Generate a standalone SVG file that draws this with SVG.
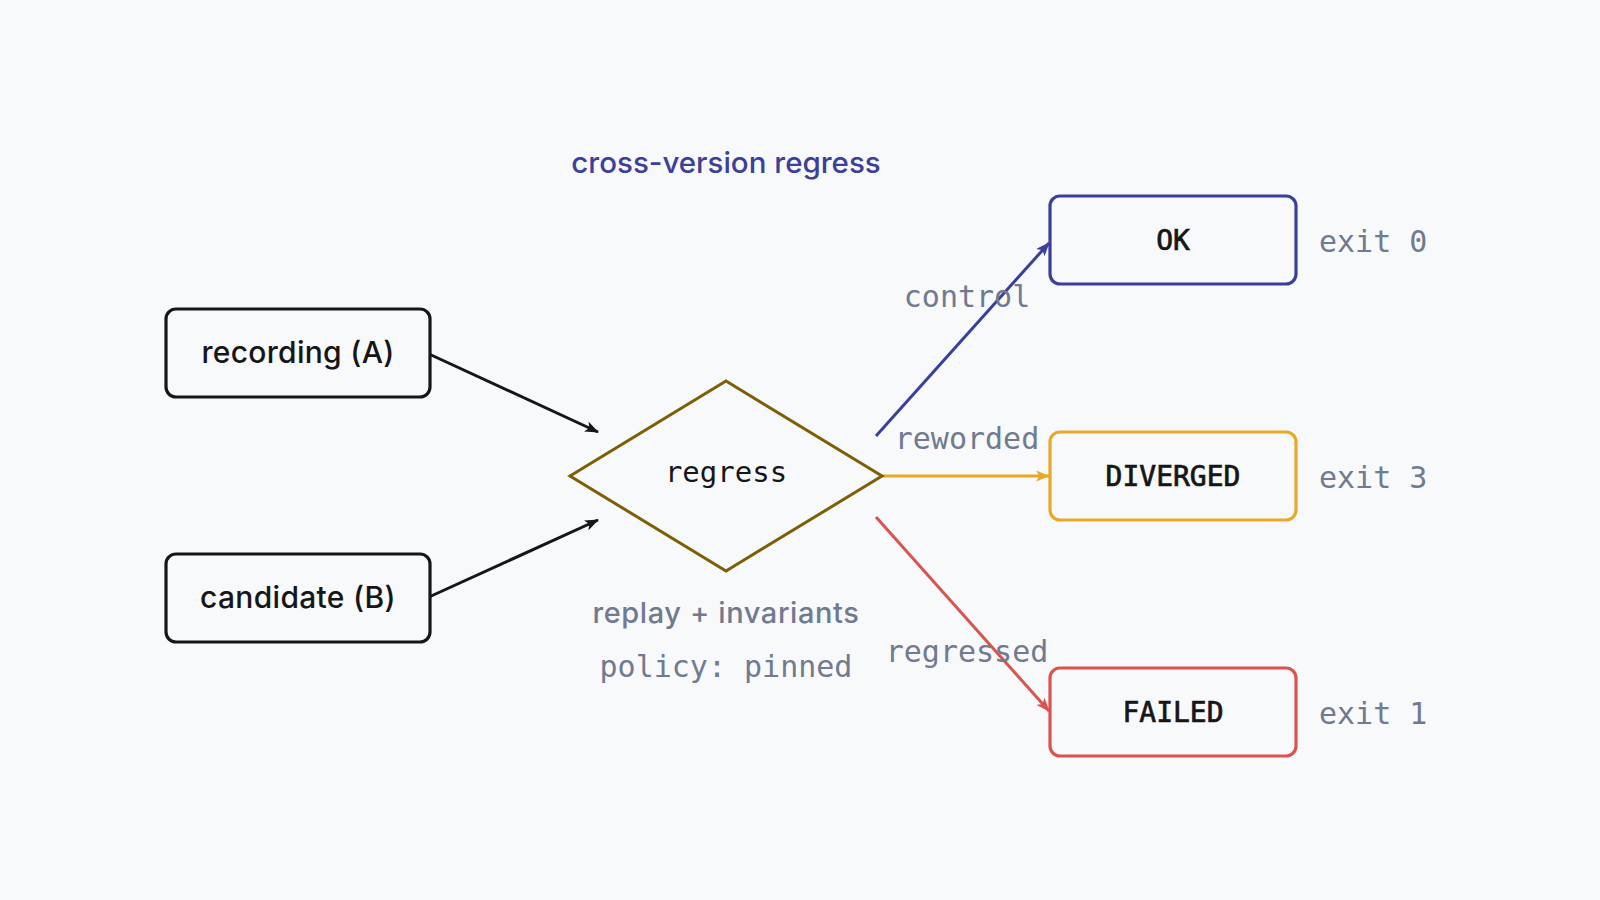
<svg xmlns="http://www.w3.org/2000/svg" width="1600" height="900" viewBox="0 0 1600 900">
<style>
.bg{fill:#f7f9fb}
.box{fill:#f7f9fb;stroke-width:3.2}
.sans{font-family:Inter,"Liberation Sans",sans-serif}
.mono{font-family:"DejaVu Sans Mono","Liberation Mono",monospace}
.lbl{fill:#717a8f;font-size:30px}
.node{font-size:28px;fill:#161616;stroke:#161616;stroke-width:0.7px}
.edge{fill:none;stroke-width:3}
</style>
<defs>
<marker id="ah-black" viewBox="0 0 14 11" refX="13" refY="5.5" markerWidth="14" markerHeight="11" markerUnits="userSpaceOnUse" orient="auto"><path d="M0,0 L14,5.5 L0,11 L3.5,5.5 z" fill="#161616"/></marker>
<marker id="ah-blue" viewBox="0 0 14 11" refX="13" refY="5.5" markerWidth="14" markerHeight="11" markerUnits="userSpaceOnUse" orient="auto"><path d="M0,0 L14,5.5 L0,11 L3.5,5.5 z" fill="#3b3f9c"/></marker>
<marker id="ah-orange" viewBox="0 0 14 11" refX="13" refY="5.5" markerWidth="14" markerHeight="11" markerUnits="userSpaceOnUse" orient="auto"><path d="M0,0 L14,5.5 L0,11 L3.5,5.5 z" fill="#e8a92a"/></marker>
<marker id="ah-red" viewBox="0 0 14 11" refX="13" refY="5.5" markerWidth="14" markerHeight="11" markerUnits="userSpaceOnUse" orient="auto"><path d="M0,0 L14,5.5 L0,11 L3.5,5.5 z" fill="#d9534f"/></marker>
</defs>
<rect class="bg" x="0" y="0" width="1600" height="900"/>
<text class="sans" x="726" y="173" text-anchor="middle" font-size="29.5" font-weight="500" fill="#3d3f99">cross-version regress</text>
<g id="connectors">
<line class="edge" x1="429" y1="354" x2="598" y2="432" stroke="#161616" marker-end="url(#ah-black)"/>
<line class="edge" x1="429" y1="597" x2="598" y2="520" stroke="#161616" marker-end="url(#ah-black)"/>
<line class="edge" x1="876" y1="436" x2="1049" y2="243" stroke="#3b3f9c" marker-end="url(#ah-blue)"/>
<line class="edge" x1="882" y1="476" x2="1049" y2="476" stroke="#e8a92a" marker-end="url(#ah-orange)"/>
<line class="edge" x1="876" y1="517" x2="1049" y2="711" stroke="#d9534f" marker-end="url(#ah-red)"/>
<text class="mono lbl" x="967" y="307" text-anchor="middle">control</text>
<text class="mono lbl" x="967" y="449" text-anchor="middle">reworded</text>
<text class="mono lbl" x="967" y="662" text-anchor="middle">regressed</text>
</g>
<g id="recording">
<rect class="box" x="166" y="309" width="264" height="88" rx="10" stroke="#161616"/>
<text class="sans" x="298" y="363" text-anchor="middle" font-size="30" font-weight="500" letter-spacing="0.3" fill="#161616">recording (A)</text>
</g>
<g id="candidate">
<rect class="box" x="166" y="554" width="264" height="88" rx="10" stroke="#161616"/>
<text class="sans" x="298" y="608" text-anchor="middle" font-size="30" font-weight="500" letter-spacing="0.3" fill="#161616">candidate (B)</text>
</g>
<g id="regress">
<polygon points="570,476 726,381 882,476 726,571" fill="#f7f9fb" stroke="#7d5f05" stroke-width="3"/>
<text class="mono" x="726" y="482" text-anchor="middle" font-size="29" fill="#161616">regress</text>
<text class="sans" x="726" y="623" text-anchor="middle" font-size="29" font-weight="500" letter-spacing="0.6" fill="#717a8f">replay + invariants</text>
<text class="mono lbl" x="726" y="677" text-anchor="middle">policy: pinned</text>
</g>
<g id="ok">
<rect class="box" x="1050" y="196" width="246" height="88" rx="10" stroke="#3b3f9c"/>
<text class="mono node" x="1173" y="250" text-anchor="middle">OK</text>
<text class="mono lbl" x="1319" y="252">exit 0</text>
</g>
<g id="diverged">
<rect class="box" x="1050" y="432" width="246" height="88" rx="10" stroke="#e8a92a"/>
<text class="mono node" x="1173" y="486" text-anchor="middle">DIVERGED</text>
<text class="mono lbl" x="1319" y="488">exit 3</text>
</g>
<g id="failed">
<rect class="box" x="1050" y="668" width="246" height="88" rx="10" stroke="#d9534f"/>
<text class="mono node" x="1173" y="722" text-anchor="middle">FAILED</text>
<text class="mono lbl" x="1319" y="724">exit 1</text>
</g>
</svg>
